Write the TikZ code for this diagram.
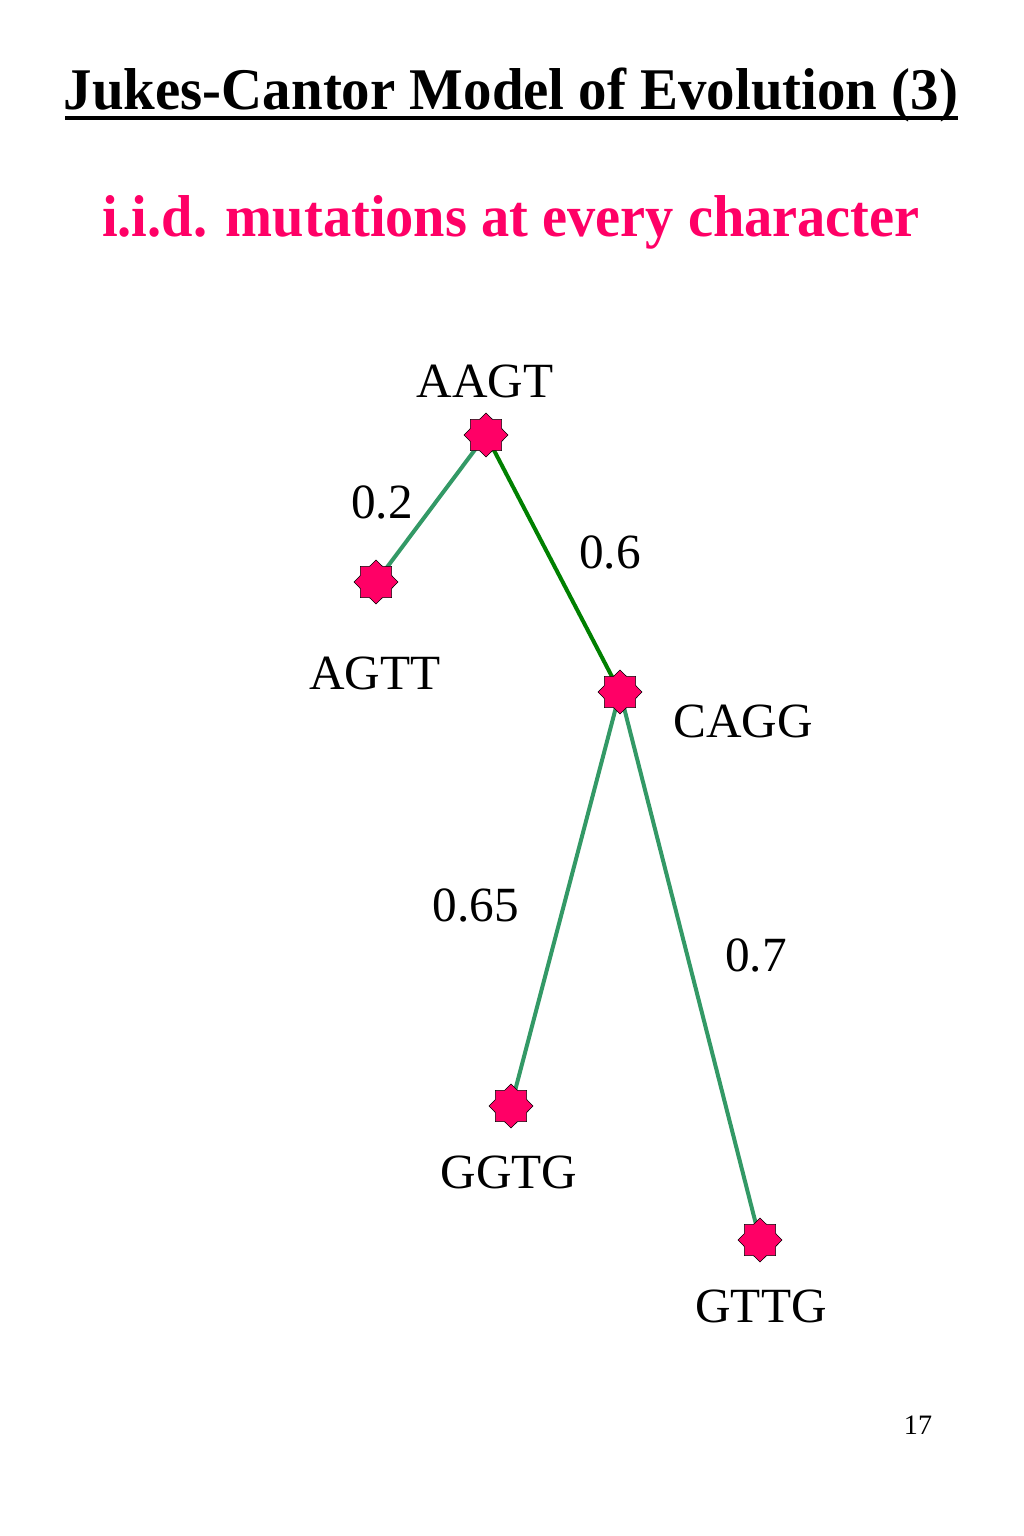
\documentclass[tikz,border=0pt]{standalone}
\usepackage{fontspec}
\setmainfont{Liberation Serif}
\usetikzlibrary{shapes.geometric}
\usetikzlibrary{positioning}
\usetikzlibrary{backgrounds}
\definecolor{mpink}{RGB}{255,0,102}
\definecolor{mgreen}{RGB}{51,153,102}
\definecolor{dgreen}{RGB}{0,128,0}
\tikzset{taxon/.style = {star, star points=8, star point ratio=1.3, draw, thin,
                         fill=mpink, inner sep=0, minimum size=1.1cm}}
\tikzset{seq/.style = {anchor=base, inner sep=0, font=\fontsize{35}{42}\selectfont}}
\tikzset{brlen/.style = {seq}}
\tikzset{branch/.style = {mgreen, line width=0.1cm}}

\begin{document}
\begin{tikzpicture}[x=0.025cm, y=-0.025cm]
    \useasboundingbox (0,0) rectangle (1024,1536);

    % heading
    \node [anchor=base, inner sep=0, xscale=0.963, font=\fontsize{42}{50}\selectfont\bfseries] (title) at (511,110)
          {Jukes-Cantor Model of Evolution (3)};
    \draw [line width=0.1cm] (65,118) -- (958,118);
    \node [anchor=base, inner sep=0, xscale=0.955, mpink, font=\fontsize{42}{50}\selectfont\bfseries] (sub) at (511,237)
          {i.i.d. mutations at every character};

    % tree
    \node [taxon] (aagt) at (486,435) {};
    \node [taxon] (agtt) at (376,582) {};
    \node [taxon] (cagg) at (620,692) {};
    \node [taxon] (ggtg) at (511,1106) {};
    \node [taxon] (gttg) at (760,1240) {};

    \begin{scope}[on background layer]
        \draw [branch] (aagt.center) -- (agtt.center);
        \draw [branch, dgreen] (aagt.center) -- (cagg.center);
        \draw [branch] (cagg.center) -- (ggtg.center);
        \draw [branch] (cagg.center) -- (gttg.center);
    \end{scope}

    \node [seq] (laagt) at (485,397) {AAGT};
    \node [seq] (lagtt) at (375,689) {AGTT};
    \node [seq] (lcagg) at (743,737) {CAGG};
    \node [seq] (lggtg) at (509,1188) {GGTG};
    \node [seq] (lgttg) at (761,1322) {GTTG};

    \node [brlen] (b1) at (382,518) {0.2};
    \node [brlen] (b2) at (610,568) {0.6};
    \node [brlen] (b3) at (476,921) {0.65};
    \node [brlen] (b4) at (756,971) {0.7};

    \node [anchor=base, inner sep=0, font=\fontsize{20}{24}\selectfont] (page) at (918,1434) {17};
\end{tikzpicture}
\end{document}
